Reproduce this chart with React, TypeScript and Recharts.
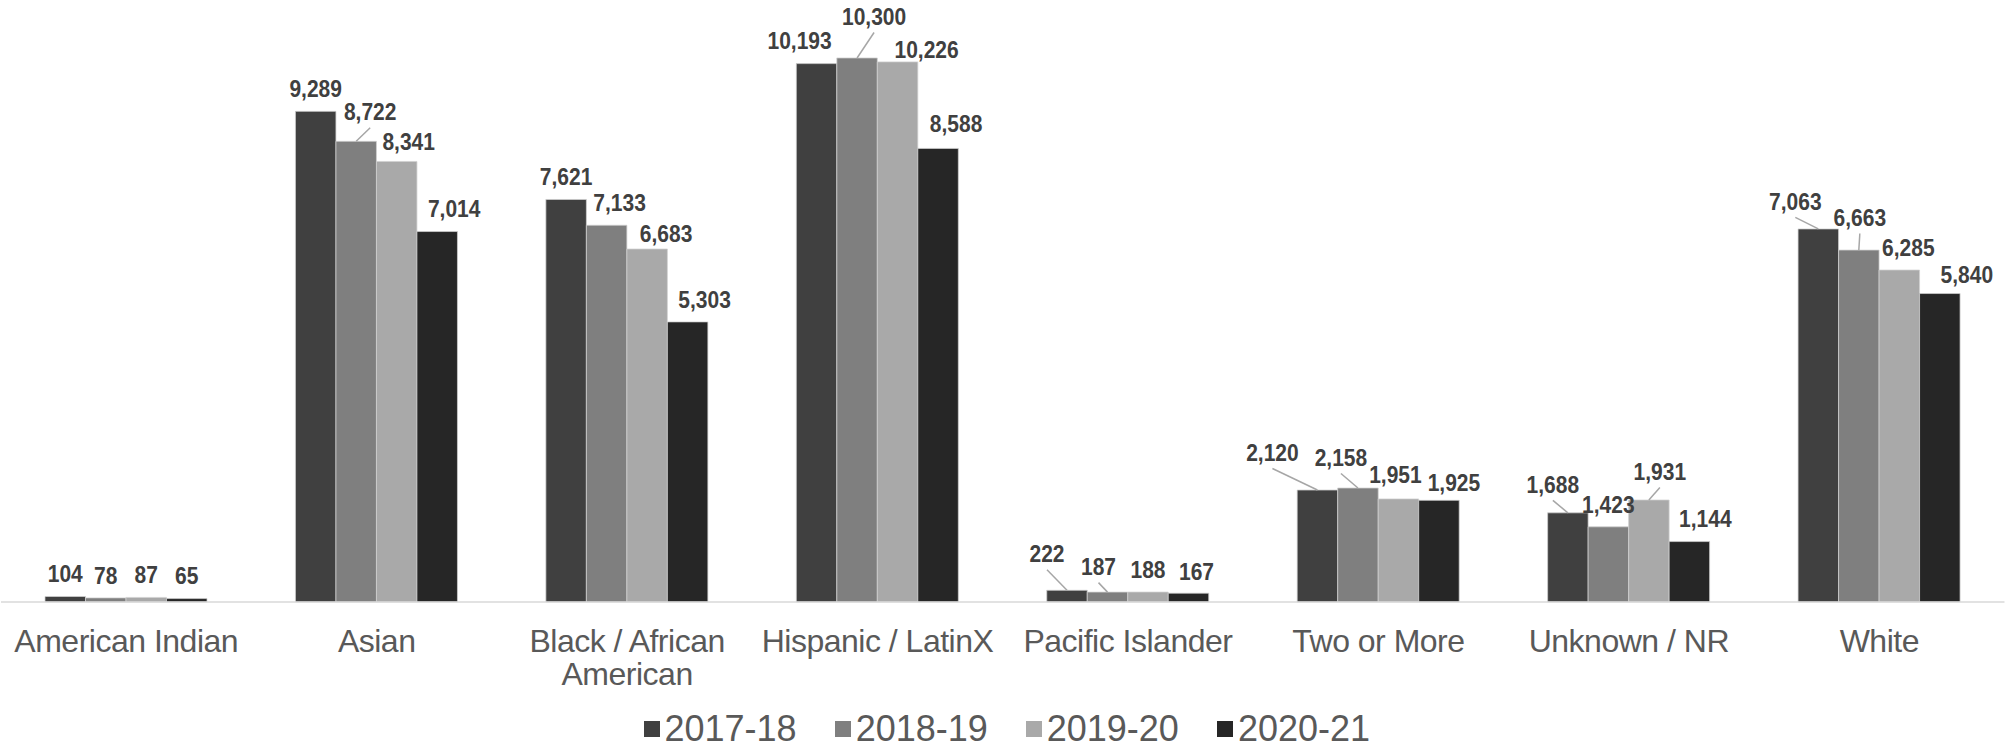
import { BarChart, Bar, XAxis, YAxis, Legend, LabelList } from "recharts";

const categories = [
  "American Indian",
  "Asian",
  "Black / African American",
  "Hispanic / LatinX",
  "Pacific Islander",
  "Two or More",
  "Unknown / NR",
  "White",
];
const years = ["2017-18", "2018-19", "2019-20", "2020-21"];
const y2017 = [104, 9289, 7621, 10193, 222, 2120, 1688, 7063];
const y2018 = [78, 8722, 7133, 10300, 187, 2158, 1423, 6663];
const y2019 = [87, 8341, 6683, 10226, 188, 1951, 1931, 6285];
const y2020 = [65, 7014, 5303, 8588, 167, 1925, 1144, 5840];

const colors = ["#404040", "#7f7f7f", "#a9a9a9", "#262626"];
const FONT = '"Liberation Sans", Arial, Helvetica, sans-serif';

// hand-moved data labels from the original: [dx, dy, leader line]
const nudges: Record<string, [number, number, boolean][]> = {
  "2017-18": [[0, 0, false], [0, 0, false], [0, 0, false], [-17, 0, false], [-20, -14, true], [-45, -15, true], [-15, -6, true], [-23, -5, true]],
  "2018-19": [[0, 0, false], [14, -7, true], [13, 0, false], [17, -19, true], [-9, -3, true], [-17, -8, true], [0, 0, false], [1, -10, true]],
  "2019-20": [[0, 0, false], [12, 3, false], [19, 7, false], [29, 10, false], [0, 0, false], [-3, -2, false], [11, -6, true], [9, 0, false]],
  "2020-21": [[0, 0, false], [17, 0, false], [17, 0, false], [18, -2, false], [8, 1, false], [15, 5, false], [16, 0, false], [27, 4, false]],
};

const series = [y2017, y2018, y2019, y2020];
const data = categories.map((name, i) => {
  const row: Record<string, string | number> = { name };
  years.forEach((yr, j) => (row[yr] = series[j][i]));
  return row;
});

const makeLabel = (key: string) => (props: any) => {
  const { x, y, width, value, index } = props;
  const [dx, dy, leader] = nudges[key][index];
  const bx = x + width / 2;
  const lx = bx + dx;
  const ly = y - 22.5 + dy;
  // the source text is a bit taller than it is wide, so stretch it a little
  return (
    <g>
      {leader && (
        <line x1={lx} y1={ly + 16} x2={bx} y2={y} stroke="#a6a6a6" strokeWidth={1.5} />
      )}
      <text
        transform={`translate(${lx},${ly + 8.2}) scale(1,1.1)`}
        textAnchor="middle"
        fontFamily={FONT}
        fontSize={21}
        fontWeight="bold"
        fill="#404040"
      >
        {Number(value).toLocaleString("en-US")}
      </text>
    </g>
  );
};

// greedy word wrap, like Excel does for category names
let ctx: CanvasRenderingContext2D | null = null;
const wrap = (s: string, maxW: number) => {
  if (!ctx) {
    ctx = document.createElement("canvas").getContext("2d");
    if (ctx) ctx.font = `32px ${FONT}`;
  }
  const w = (t: string) => (ctx ? ctx.measureText(t).width : t.length * 16);
  const lines: string[] = [];
  let cur = "";
  s.split(" ").forEach((word) => {
    const next = cur ? cur + " " + word : word;
    if (cur && w(next) > maxW) {
      lines.push(cur);
      cur = word;
    } else cur = next;
  });
  if (cur) lines.push(cur);
  return lines;
};

const CatTick = ({ x, y, payload }: any) => {
  const lines = wrap(String(payload.value), 250);
  return (
    <text
      x={x}
      y={y + 41.7}
      textAnchor="middle"
      fontFamily={FONT}
      fontSize={32}
      fill="#595959"
      letterSpacing={-0.5}
    >
      {lines.map((l, i) => (
        <tspan key={i} x={x} dy={i === 0 ? 0 : 33}>
          {l}
        </tspan>
      ))}
    </text>
  );
};

const renderLegend = () => (
  <div
    style={{
      display: "flex",
      justifyContent: "center",
      alignItems: "center",
      gap: 38,
      height: 56,
      paddingTop: 18,
      paddingLeft: 8,
      boxSizing: "border-box",
      fontFamily: FONT,
      fontSize: 36,
      lineHeight: "40px",
      color: "#595959",
    }}
  >
    {years.map((yr, j) => (
      <div key={yr} style={{ display: "flex", alignItems: "center" }}>
        <span style={{ width: 16, height: 16, background: colors[j], marginRight: 5, display: "inline-block" }} />
        <span>{yr}</span>
      </div>
    ))}
  </div>
);

export default function App() {
  return (
    <div style={{ position: "absolute", left: 0, top: 0, width: 2015, height: 748, background: "#fff" }}>
      <BarChart
        width={2015}
        height={748}
        data={data}
        margin={{ top: 21, right: 10.5, left: 1, bottom: 0 }}
        barGap={0}
      >
        <XAxis
          dataKey="name"
          interval={0}
          height={90}
          tickLine={false}
          axisLine={{ stroke: "#d9d9d9", strokeWidth: 1.5 }}
          tick={<CatTick />}
        />
        <YAxis hide domain={[0, 11000]} />
        <Legend verticalAlign="bottom" content={renderLegend} />
        {years.map((yr, j) => (
          <Bar
            key={yr}
            dataKey={yr}
            fill={colors[j]}
            stroke="#d0d0d0"
            strokeWidth={0.75}
            barSize={40.5}
            isAnimationActive={false}
          >
            <LabelList dataKey={yr} content={makeLabel(yr)} />
          </Bar>
        ))}
      </BarChart>
    </div>
  );
}
